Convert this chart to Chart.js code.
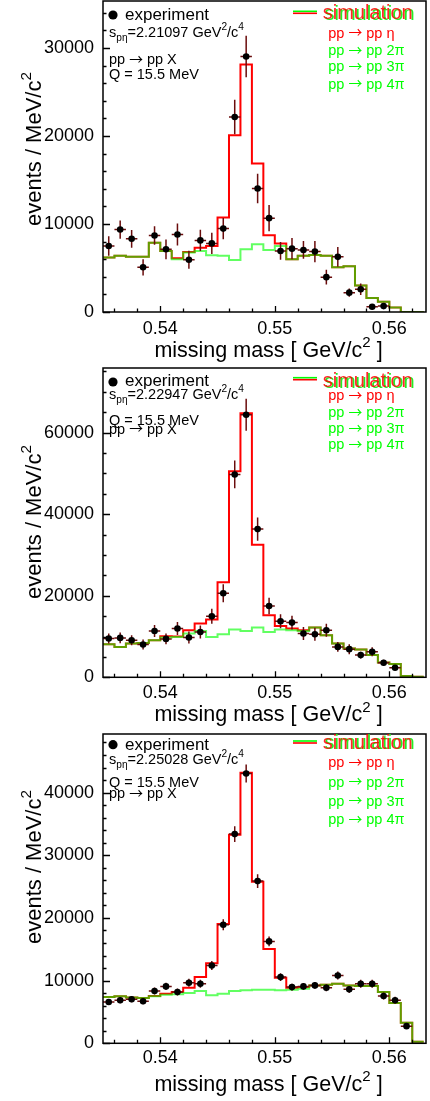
<!DOCTYPE html>
<html>
<head>
<meta charset="utf-8">
<script src="https://cdn.jsdelivr.net/npm/chart.js@4.4.1/dist/chart.umd.min.js"></script>
<style>
  html, body { margin: 0; padding: 0; background: #fff; width: 430px; height: 1101px; overflow: hidden; position: relative; }
  canvas { position: absolute; left: 0; }
</style>
</head>
<body>
<canvas id="panel1"></canvas>
<canvas id="panel2"></canvas>
<canvas id="panel3"></canvas>
<script>
// Missing-mass bin centres in GeV/c^2 (1 MeV bins)
const massCenters = [0.5355, 0.5365, 0.5375, 0.5385, 0.5395, 0.5405, 0.5415, 0.5425, 0.5435, 0.5445,
                     0.5455, 0.5465, 0.5475, 0.5485, 0.5495, 0.5505, 0.5515, 0.5525, 0.5535, 0.5545,
                     0.5555, 0.5565, 0.5575, 0.5585, 0.5595, 0.5605, 0.5615, 0.5625];
const binWidth = 0.001;
const xTickValues = [0.54, 0.55, 0.56];

// s_pη = 2.21097 GeV^2/c^4
const exp1 = [7500, 9370, 8320, 5080, 8700, 7130, 8810, 5940, 8140, 7800, 9480, 22170, 29040, 14030,
              10670, 6940, 7200, 7050, 6870, 3960, 6270, 2200, 2580, 600, 670, null, null, null];
const err1 = [1120, 1030, 1010, 930, 1060, 1120, 1250, 1010, 1210, 1210, 1210, 1960, 2370, 1680,
              1490, 1010, 1210, 1010, 1210, 840, 1120, 470, 650, 280, 250, null, null, null];
const sim1 = [6190, 6380, 6270, 6270, 7870, 6940, 6120, 6830, 7310, 7500, 10750, 20080, 28140, 16880,
              8730, 7800, 6000, 6380, 6490, 6380, 5075, 5190, 3020, 1600, 1160, 520, 0, 0];
const bkg1 = [6190, 6380, 6270, 6270, 7870, 6940, 6010, 6750, 6940, 6460, 6380, 5900, 7130, 7690,
              7050, 7500, 6000, 6380, 6490, 6380, 5075, 5190, 3020, 1600, 1160, 520, 0, 0];
const yTicks1 = [0, 10000, 20000, 30000];

// s_pη = 2.22947 GeV^2/c^4
const exp2 = [9510, 9660, 9100, 8040, 11370, 9420, 11950, 9750, 11120, 14950, 20630, 49750, 64390, 36340,
              17470, 13730, 13410, 10730, 10560, 11540, 7460, 6900, 5440, 6250, 3560, 2340, null, null];
const err2 = [1220, 1340, 1220, 1220, 1460, 1340, 1590, 1460, 1590, 1830, 2200, 3410, 3900, 2850,
              2030, 1710, 1710, 1590, 1590, 1590, 1220, 1220, 850, 1100, 730, 610, null, null];
const sim2 = [8120, 7460, 8290, 8440, 9100, 10070, 10000, 11540, 13170, 14150, 23320, 50560, 64780, 32510,
              15200, 12590, 11950, 11540, 12190, 10320, 8290, 7070, 6830, 5440, 3660, 3240, 320, 150];
const bkg2 = [8120, 7460, 8290, 8440, 9100, 9750, 9900, 10730, 11370, 9900, 10560, 11700, 11370, 12190,
              11120, 11700, 11540, 11370, 12190, 10320, 8290, 7070, 6830, 5440, 3660, 3240, 320, 150];
const yTicks2 = [0, 20000, 40000, 60000];

// s_pη = 2.25028 GeV^2/c^4
const exp3 = [6590, 6860, 7020, 6700, 8340, 9080, 8180, 9660, 9510, 12410, 18910, 33380, 43040, 25880,
              16260, 10560, 8970, 9080, 9240, 8870, 10820, 8610, 9510, 9510, 7540, 6860, 2740, null];
const err3 = [480, 480, 480, 480, 550, 590, 550, 630, 630, 710, 870, 1270, 1430, 1110,
              790, 630, 550, 550, 550, 550, 630, 550, 630, 630, 550, 550, 400, null];
const sim3 = [7390, 7500, 7290, 7240, 7550, 7920, 8180, 8870, 10560, 12770, 19020, 33280, 43150, 25770,
              15060, 10460, 8870, 8970, 9240, 9350, 9510, 9240, 9130, 9130, 8180, 6430, 3260, 250];
const bkg3 = [7390, 7500, 7290, 7240, 7500, 7760, 7820, 8020, 8340, 7650, 7920, 8340, 8450, 8560,
              8560, 8450, 8560, 8720, 9240, 9350, 9510, 9240, 9130, 9130, 8180, 6430, 3260, 250];
const yTicks3 = [0, 10000, 20000, 30000, 40000];

const FONT = '"Liberation Sans", Arial, Helvetica, sans-serif';
const SYMFONT = '"Noto Sans CJK SC", "DejaVu Sans", sans-serif';
Chart.defaults.font.family = FONT;

// step outline: one point per lower bin edge plus the closing upper edge
function histPoints(values) {
  const pts = values.map((v, i) => ({ x: massCenters[i] - binWidth / 2, y: v }));
  const last = values.length - 1;
  pts.push({ x: massCenters[last] + binWidth / 2, y: values[last] });
  return pts;
}

function expPoints(values, errors) {
  const pts = [];
  values.forEach((v, i) => {
    if (v !== null) pts.push({ x: massCenters[i], y: v, err: errors[i] });
  });
  return pts;
}

// text with sub/superscripts; parts = [[text, kind], ...]
function partFont(kind, size) {
  if (kind === 'sym') return `${size * 0.95}px ${SYMFONT}`;
  return `${(kind === 'sup' || kind === 'sub') ? size * 0.7 : size}px ${FONT}`;
}
function richWidth(ctx, parts, size) {
  let w = 0;
  for (const [t, kind] of parts) {
    ctx.font = partFont(kind, size);
    w += ctx.measureText(t).width;
  }
  return w;
}
function drawRich(ctx, x, y, parts, size, color) {
  ctx.fillStyle = color;
  ctx.textBaseline = 'alphabetic';
  ctx.textAlign = 'left';
  let cx = x;
  for (const [t, kind] of parts) {
    const dy = kind === 'sup' ? -size * 0.45 : kind === 'sub' ? size * 0.28 : kind === 'sym' ? -size * 0.02 : 0;
    ctx.font = partFont(kind, size);
    ctx.fillText(t, cx, y + dy);
    cx += ctx.measureText(t).width;
  }
}
function reaction(products) {
  return [['pp ', ''], ['→', 'sym'], [' pp ' + products, '']];
}

// error bars beneath the experimental markers
const errorBars = {
  id: 'errorBars',
  beforeDatasetDraw(chart, args) {
    if (args.index !== 2) return;
    const { ctx, chartArea, scales: { x, y } } = chart;
    ctx.save();
    ctx.beginPath();
    ctx.rect(chartArea.left, chartArea.top, chartArea.right - chartArea.left, chartArea.bottom - chartArea.top);
    ctx.clip();
    ctx.strokeStyle = '#6a0c0c';
    ctx.lineWidth = 1.5;
    for (const p of chart.data.datasets[2].data) {
      const px = x.getPixelForValue(p.x);
      const py = y.getPixelForValue(p.y);
      ctx.beginPath();
      ctx.moveTo(px, y.getPixelForValue(p.y - p.err));
      ctx.lineTo(px, y.getPixelForValue(p.y + p.err));
      ctx.moveTo(x.getPixelForValue(p.x - binWidth / 2), py);
      ctx.lineTo(x.getPixelForValue(p.x + binWidth / 2), py);
      ctx.stroke();
    }
    ctx.restore();
  }
};

// frame with inward-pointing ticks
const frameTicks = {
  id: 'frameTicks',
  afterDatasetsDraw(chart, args, opts) {
    const { ctx, chartArea: a, scales: { x, y } } = chart;
    ctx.save();
    ctx.strokeStyle = '#000';
    ctx.lineWidth = 1.3;
    ctx.beginPath();
    for (const t of y.ticks) {
      const py = Math.round(y.getPixelForValue(t.value)) + 0.5;
      ctx.moveTo(a.left, py); ctx.lineTo(a.left + 7, py);
    }
    for (let v = opts.yMinor; v < y.max; v += opts.yMinor) {
      const py = Math.round(y.getPixelForValue(v)) + 0.5;
      ctx.moveTo(a.left, py); ctx.lineTo(a.left + 3.5, py);
    }
    for (const t of x.ticks) {
      const px = Math.round(x.getPixelForValue(t.value)) + 0.5;
      ctx.moveTo(px, a.bottom); ctx.lineTo(px, a.bottom - 6);
    }
    for (let k = 268; k <= 281; k++) {
      const v = k * 0.002;
      const px = Math.round(x.getPixelForValue(v)) + 0.5;
      ctx.moveTo(px, a.bottom); ctx.lineTo(px, a.bottom - 3.5);
    }
    ctx.stroke();
    ctx.lineWidth = 1.5;
    ctx.strokeRect(a.left, a.top, a.right - a.left, a.bottom - a.top);
    ctx.restore();
  }
};

// legends and axis titles
const annotations = {
  id: 'annotations',
  afterDraw(chart, args, o) {
    const { ctx, chartArea: a } = chart;
    const top = a.top;
    ctx.save();
    // experiment marker + label
    ctx.fillStyle = '#000';
    ctx.beginPath();
    ctx.arc(113, top + o.dotY, 4.6, 0, Math.PI * 2);
    ctx.fill();
    drawRich(ctx, 125, top + o.expY, [['experiment', '']], 17, '#000');
    drawRich(ctx, 109, top + o.sY, [['s', ''], ['pη', 'sub'], ['=' + o.s + ' GeV', ''], ['2', 'sup'], ['/c', ''], ['4', 'sup']], 14.5, '#000');
    drawRich(ctx, 109, top + o.reacY, reaction('X'), 14.5, '#000');
    drawRich(ctx, 109, top + o.qY, [['Q = 15.5 MeV', '']], 14.5, '#000');

    // simulation legend
    ctx.lineWidth = 1.6;
    ctx.strokeStyle = '#00ff00';
    ctx.beginPath(); ctx.moveTo(293, top + o.lineG); ctx.lineTo(317, top + o.lineG); ctx.stroke();
    ctx.strokeStyle = '#ff0000';
    ctx.beginPath(); ctx.moveTo(293, top + o.lineR); ctx.lineTo(317, top + o.lineR); ctx.stroke();
    drawRich(ctx, 324.5, top + o.simY + 0.7, [['simulation', '']], 20, '#22ee22');
    drawRich(ctx, 322.7, top + o.simY, [['simulation', '']], 20, 'rgba(255,0,0,0.85)');
    drawRich(ctx, 328.3, top + o.chY[0], reaction('η'), 14.5, '#ff0000');
    drawRich(ctx, 328.3, top + o.chY[1], reaction('2π'), 14.5, '#00ff00');
    drawRich(ctx, 328.3, top + o.chY[2], reaction('3π'), 14.5, '#00ff00');
    drawRich(ctx, 328.3, top + o.chY[3], reaction('4π'), 14.5, '#00ff00');

    // x title
    const xParts = [['missing mass [ GeV/c', ''], ['2', 'sup'], [' ]', '']];
    const xw = richWidth(ctx, xParts, 21.5);
    drawRich(ctx, 268.5 - xw / 2, a.bottom + o.xTitleY, xParts, 21.5, '#000');

    // y title, rotated
    const yParts = [['events / MeV/c', ''], ['2', 'sup']];
    const yw = richWidth(ctx, yParts, 22);
    ctx.translate(41, top + o.yTitleC);
    ctx.rotate(-Math.PI / 2);
    drawRich(ctx, -yw / 2, 0, yParts, 22, '#000');
    ctx.restore();
  }
};

function makePanel(id, cfg) {
  const canvas = document.getElementById(id);
  canvas.width = 430;
  canvas.height = cfg.canvasH;
  canvas.style.top = cfg.top + 'px';
  canvas.style.width = '430px';
  canvas.style.height = cfg.canvasH + 'px';
  const xAxisH = cfg.canvasH - cfg.padTop - cfg.frameH;
  new Chart(canvas, {
    type: 'scatter',
    data: {
      datasets: [
        { type: 'line', label: 'pp → pp η', data: histPoints(cfg.sim), stepped: 'before',
          borderColor: '#ff0000', borderWidth: 2, pointRadius: 0, fill: false, order: 3 },
        { type: 'line', label: 'pp → pp nπ', data: histPoints(cfg.bkg), stepped: 'before',
          borderColor: 'rgba(0,255,0,0.62)', borderWidth: 2, pointRadius: 0, fill: false, order: 2 },
        { type: 'scatter', label: 'experiment', data: expPoints(cfg.exp, cfg.err),
          pointRadius: 3.3, pointBackgroundColor: '#000', pointBorderWidth: 0, order: 1 }
      ]
    },
    options: {
      responsive: false,
      animation: false,
      devicePixelRatio: 1,
      layout: { padding: { left: 0, right: 4, top: cfg.padTop, bottom: 0 } },
      plugins: {
        legend: { display: false },
        tooltip: { enabled: false },
        frameTicks: { yMinor: cfg.yMinor },
        annotations: cfg.text
      },
      scales: {
        x: {
          type: 'linear', min: 0.535, max: 0.5632,
          grid: { display: false, drawTicks: false }, border: { display: false },
          afterBuildTicks: s => { s.ticks = xTickValues.map(v => ({ value: v })); },
          ticks: { autoSkip: false, maxRotation: 0, padding: cfg.xPad, color: '#000',
                   font: { size: 18 }, callback: v => v.toFixed(2) },
          afterFit: s => { s.height = xAxisH; s.paddingLeft = 0; s.paddingRight = 0; }
        },
        y: {
          type: 'linear', min: 0, max: cfg.yMax,
          grid: { display: false, drawTicks: false }, border: { display: false },
          afterBuildTicks: s => { s.ticks = cfg.yTicks.map(v => ({ value: v })); },
          ticks: { autoSkip: false, padding: 9, color: '#000', font: { size: 18 },
                   callback: v => String(v) },
          afterFit: s => { s.width = 103; s.paddingTop = 0; s.paddingBottom = 0; }
        }
      }
    },
    plugins: [errorBars, frameTicks, annotations]
  });
}

makePanel('panel1', {
  top: -3, canvasH: 369, padTop: 0, frameH: 315, yMax: 35350, yMinor: 2000, xPad: 6.5,
  sim: sim1, bkg: bkg1, exp: exp1, err: err1, yTicks: yTicks1,
  text: { s: '2.21097', dotY: 14, expY: 19, sY: 35.7, reacY: 63, qY: 78.3,
          lineG: 10.3, lineR: 12.3, simY: 18, chY: [36.5, 54.2, 69.8, 87.5],
          xTitleY: 44.7, yTitleC: 148 }
});
makePanel('panel2', {
  top: 364, canvasH: 368, padTop: 2, frameH: 311.3, yMax: 75850, yMinor: 5000, xPad: 5.2,
  sim: sim2, bkg: bkg2, exp: exp2, err: err2, yTicks: yTicks2,
  text: { s: '2.22947', dotY: 14, expY: 18, sY: 30.7, reacY: 65.7, qY: 56.7,
          lineG: 9.7, lineR: 11.7, simY: 19, chY: [31.8, 49.2, 65, 80.8],
          xTitleY: 44, yTitleC: 154 }
});
makePanel('panel3', {
  top: 730, canvasH: 371, padTop: 2, frameH: 311.3, yMax: 49350, yMinor: 2000, xPad: 4.2,
  sim: sim3, bkg: bkg3, exp: exp3, err: err3, yTicks: yTicks3,
  text: { s: '2.25028', dotY: 10.7, expY: 16, sY: 29.7, reacY: 63.8, qY: 53,
          lineG: 7, lineR: 9, simY: 14.5, chY: [33.2, 52.5, 71.5, 89.8],
          xTitleY: 47.4, yTitleC: 133 }
});
</script>
</body>
</html>
